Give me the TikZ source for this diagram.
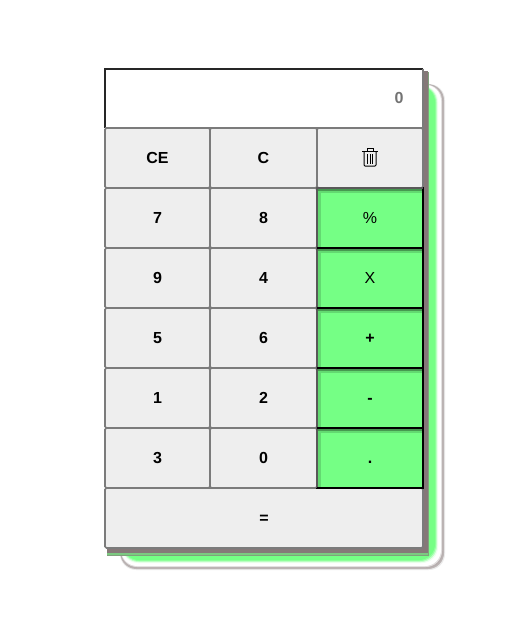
\documentclass[tikz,border=0pt]{standalone}
\usepackage{fontspec}
\setmainfont{Liberation Sans}
\usepackage{xcolor}
\usetikzlibrary{positioning}
\definecolor{keygray}{HTML}{EEEEEE}
\definecolor{keyline}{HTML}{7B7B7B}
\definecolor{opgreen}{HTML}{75FF85}
\definecolor{shadowgray}{HTML}{857878}

\begin{document}
\begin{tikzpicture}[
    x=1pt, y=-1pt,
    node distance=0pt,
    keybox/.style={rectangle, draw=keyline, line width=1.6pt, fill=keygray, rounded corners=1.5pt, outer sep=0pt, minimum width=#1, minimum height=60pt, inner sep=0pt, text height=11.5pt, text depth=0pt, font=\bfseries\fontsize{16}{18}\selectfont},
    keybox/.default=105pt,
    midbox/.style={keybox=107pt},
    opbox/.style={keybox=106pt, draw=black, line width=2pt, fill=opgreen, rounded corners=0pt},
    trashline/.style={draw=black, line width=1pt}
]
    \useasboundingbox (0,0) rectangle (519,627);

    % Shadow behind the keypad
    \foreach \inset/\ringcol in {0/black!8, 1/shadowgray!55, 2/shadowgray!60, 3/shadowgray!25, 4/white, 7/opgreen!12, 8/opgreen!45, 9/opgreen!80, 10/opgreen}
        \fill [\ringcol, rounded corners=16pt] (120+0.3*\inset,84+0.2*\inset) rectangle (445-\inset,570-\inset);
    \fill [shadowgray!70!opgreen] (107,72) rectangle (429,556);
    \fill [shadowgray] (107,71) rectangle (427.5,555);
    \fill [opgreen!60!shadowgray] (107,553) rectangle (427.5,555);

    % Display
    \node [rectangle, fill=white, outer sep=0pt, minimum width=318pt, minimum height=59pt, inner sep=0pt] (display) at (264,98) {};
    \node [font=\bfseries\fontsize{16}{18}\selectfont, text=black!55, left=16pt of display.east] (value) {0};
    \draw [draw=black!85, line width=2pt] (display.south west) -- (display.north west) -- (display.north east);
    \draw [draw=keyline, line width=2pt] (display.north east) -- (display.south east) -- (display.south west);

    % Keys
    \node [keybox] (ce) at (157.5,158) {CE};
    \node [midbox, right=of ce] (clear) {C};
    \node [keybox=106pt, right=of clear] (trash) {};
    \node [keybox, below=of ce] (seven) {7};
    \node [midbox, right=of seven] (eight) {8};
    \node [keybox, below=of seven] (nine) {9};
    \node [midbox, right=of nine] (four) {4};
    \node [keybox, below=of nine] (five) {5};
    \node [midbox, right=of five] (six) {6};
    \node [keybox, below=of five] (one) {1};
    \node [midbox, right=of one] (two) {2};
    \node [keybox, below=of one] (three) {3};
    \node [midbox, right=of three] (zero) {0};
    \node [keybox=318pt, anchor=north west] (equals) at (three.south west) {=};

    % Operators
    \node [opbox, below=of trash] (percent) {\mdseries\%};
    \node [opbox, below=of percent] (times) {\mdseries X};
    \node [opbox, below=of times] (plus) {+};
    \node [opbox, below=of plus] (minus) {-};
    \node [opbox, below=of minus] (point) {.};
    \foreach \key in {percent, times, plus, minus, point} {
        \fill [opgreen!85!black] ([shift={(1pt,-1pt)}]\key.north west) rectangle ([shift={(4pt,1pt)}]\key.south west);
        \fill [opgreen!85!black] ([shift={(1pt,-1pt)}]\key.north west) rectangle ([shift={(-1pt,-5pt)}]\key.north east);
        \fill [opgreen!60!black] ([shift={(1pt,-1pt)}]\key.north west) rectangle ([shift={(-1pt,-3pt)}]\key.north east);
        \draw [draw=black!65, line width=2pt] (\key.south west) -- (\key.north west) -- (\key.north east);
    }
    \foreach \key in {percent, times, plus, minus, point}
        \draw [draw=black, line width=2.4pt] (\key.south west) -- (\key.south east);

    % Trash icon
    \begin{scope}[shift={(trash.center)}]
        \draw [trashline] (-8,-6.5) -- (8,-6.5);
        \draw [trashline] (-3,-6.5) -- (-3,-10) -- (3,-10) -- (3,-6.5);
        \draw [trashline, rounded corners=1pt] (-6,-6.5) -- (-6,8) -- (6,8) -- (6,-6.5);
        \foreach \bar in {-2.5, 0, 2.5}
            \draw [trashline] (\bar,-4) -- (\bar,5.5);
    \end{scope}
\end{tikzpicture}
\end{document}
